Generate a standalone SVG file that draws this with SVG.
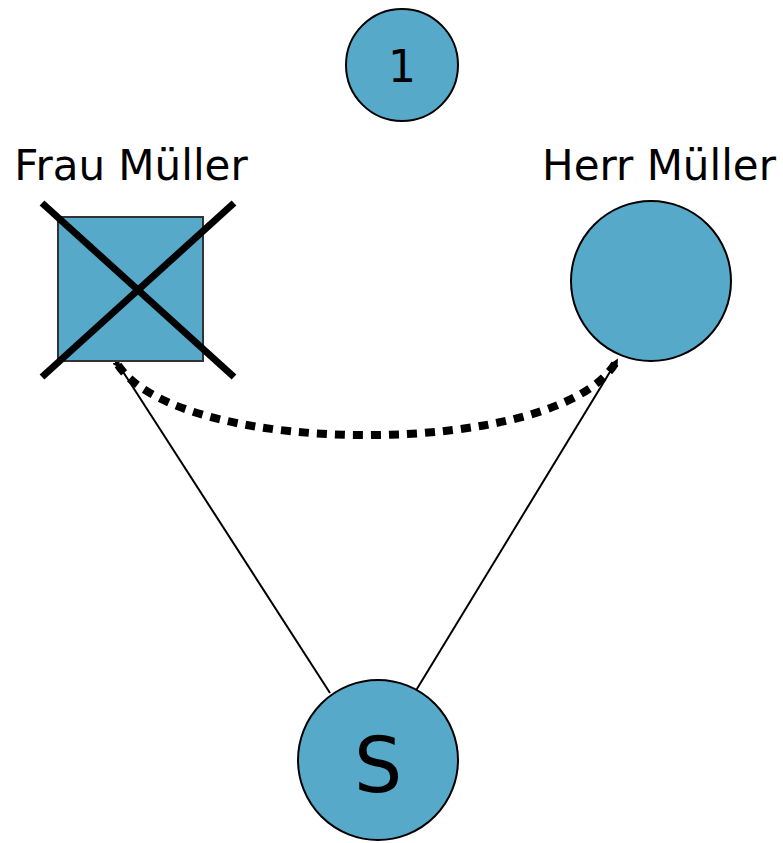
<svg xmlns="http://www.w3.org/2000/svg" width="783" height="843" viewBox="0 0 783 843">
  <style>
    .node { fill: #57a9c9; stroke: #000; stroke-width: 2; }
    .label { font-family: "DejaVu Sans", Verdana, sans-serif; fill: #000; }
    .edge { fill: none; stroke: #000; stroke-width: 2; }
    .dotted { fill: none; stroke: #000; stroke-width: 8; stroke-dasharray: 10 8; }
    .cross { stroke: #000; stroke-width: 7; }
  </style>
  <defs>
    <marker id="tick" markerWidth="8" markerHeight="8" refX="4" refY="4" orient="auto" markerUnits="userSpaceOnUse">
      <path d="M0,0 L8,4 L0,8 z" fill="#000"/>
    </marker>
  </defs>

  <rect width="783" height="843" fill="#fff"/>

  <g id="connectors">
    <line class="edge" x1="330" y1="693" x2="118" y2="364"/>
    <line class="edge" x1="412" y1="697" x2="616" y2="362"/>
    <path class="dotted" d="M118,365 C180,459 560,459 616,362" marker-start="url(#tick)" marker-end="url(#tick)"/>
  </g>

  <g id="node-1">
    <circle class="node" cx="402" cy="65" r="56"/>
    <text class="label" x="402" y="82" font-size="44" text-anchor="middle">1</text>
  </g>

  <g id="frau-mueller">
    <rect x="58" y="217" width="145" height="144" fill="#57a9c9" stroke="#333" stroke-width="2"/>
    <line class="cross" x1="42" y1="203" x2="234" y2="377"/>
    <line class="cross" x1="234" y1="203" x2="42" y2="377"/>
    <text class="label" x="131" y="180" font-size="42" text-anchor="middle">Frau Müller</text>
  </g>

  <g id="herr-mueller">
    <circle class="node" cx="651" cy="281" r="80"/>
    <text class="label" x="659" y="180" font-size="42" text-anchor="middle">Herr Müller</text>
  </g>

  <g id="node-s">
    <circle class="node" cx="378" cy="760" r="80"/>
    <text class="label" x="378" y="792" font-size="76" text-anchor="middle">S</text>
  </g>
</svg>
